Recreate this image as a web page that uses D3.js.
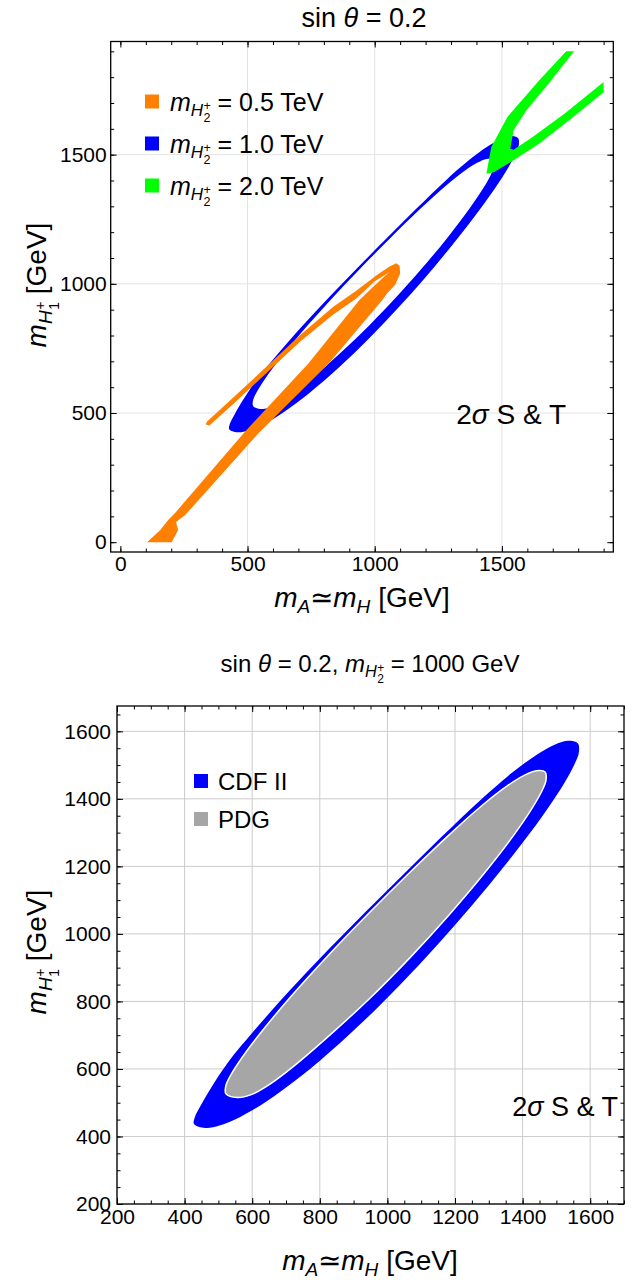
<!DOCTYPE html>
<html><head><meta charset="utf-8">
<script src="https://cdn.jsdelivr.net/npm/d3@7"></script>
<style>body{margin:0;background:#fff} svg{font-family:"Liberation Sans",Arial,Helvetica,sans-serif}</style>
</head><body>
<svg id="c" width="637" height="1280"></svg>
<script>
// ---------- data ----------
const topMajorTicks = [0, 500, 1000, 1500];
const topMinorTicks = d3.range(0, 1901, 100);
const botMajorTicks = [200, 400, 600, 800, 1000, 1200, 1400, 1600];
const botMinorTicksX = d3.range(200, 1701, 50);
const botMinorTicksY = d3.range(200, 1651, 50);

// CDF II allowed band (m_H2+ = 1.0 TeV): outer boundary, [mA, mH1+] in GeV
const cdfOuter = [[427.8,437.3],[430.0,456.4],[446.4,489.5],[477.7,543.2],[528.7,619.5],[605.3,712.8],[711.5,832.8],[821.3,949.5],[933.5,1063.4],[1047.0,1176.1],[1161.1,1288.4],[1277.3,1398.4],[1368.5,1477.0],[1441.8,1530.8],[1496.4,1561.0],[1534.7,1572.1],[1563.2,1564.7],
  [1566.8,1539.7],[1553.9,1503.1],[1524.0,1448.0],[1473.7,1371.0],[1402.1,1272.8],[1302.0,1146.5],[1198.1,1024.0],[1090.6,905.2],[979.4,790.2],[863.3,679.9],[741.1,575.9],[643.1,504.3],[563.3,457.0],[503.4,432.2],[460.8,425.4]];
// inner boundary of the CDF II band (= PDG allowed region)
const cdfInner = [[522.3,526.3],[521.8,549.3],[537.4,583.1],[570.6,634.7],[625.2,707.2],[715.2,815.2],[822.7,933.9],[940.5,1056.5],[1060.8,1176.6],[1176.2,1287.5],[1280.8,1381.0],[1352.3,1436.8],[1404.7,1469.4],[1440.3,1483.4],[1466.7,1479.7],
  [1469.1,1454.8],[1455.1,1419.4],[1424.0,1365.8],[1372.2,1290.4],[1285.9,1178.8],[1182.3,1056.2],[1067.7,930.5],[948.3,809.5],[830.5,701.0],[724.1,609.3],[651.5,554.5],[597.2,523.9],[556.2,515.2]];
// m_H2+ = 0.5 TeV region
const orangeRegion = [[105,0],[157,47],[188,86],[215,113],[488,426],[740,693],[940,937],[990,985],[1040,1030],[1058,1045],
  [1000,1010],[930,945],[836,880],[705,775],[575,655],[444,535],[350,452],[336,456],[340,466],[444,560],[575,680],[705,800],[836,910],[930,975],[1010,1035],[1060,1068],[1085,1080],[1098,1070],[1100,1040],[1080,995],[1050,965],[1030,937],[820,693],[547,426],[255,105],[219,78],[227,47],[202,0]];
// m_H2+ = 2.0 TeV region
const greenRegion = [[1439,1426],[1458,1529],[1521,1645],[1646,1787],[1753,1900],[1784,1900],[1684,1775],[1596,1671],[1546,1594],[1533,1523],[1546,1519],[1621,1568],[1747,1659],[1900,1781],[1900,1742],[1772,1639],[1646,1542],[1546,1478],[1470,1433]];

const topLegend = ["0.5", "1.0", "2.0"];
const topColors = ["#ff8000", "#0000ff", "#00ff00"];
const botLegend = ["CDF II", "PDG"];
const botColors = ["#0000ff", "#a6a6a6"];

// ---------- helpers ----------
const svg = d3.select("#c");
function rich(parent, x, y, fs, segs, anchor) {
  const g = parent.append("g");
  let cx = 0;
  segs.forEach(s => {
    const t = g.append("text")
      .attr("x", cx + (s.dx || 0) * fs)
      .attr("y", (s.dy || 0) * fs)
      .attr("font-size", fs * (s.s || 1))
      .attr("font-style", s.it ? "italic" : "normal")
      .style("white-space", "pre")
      .attr("fill", "#000")
      .text(s.t);
    const w = t.node().getComputedTextLength();
    if (s.adv !== false) cx += w + (s.dx || 0) * fs;
  });
  const off = anchor === "middle" ? -cx / 2 : anchor === "end" ? -cx : 0;
  g.attr("transform", `translate(${x + off},${y})`);
  return g;
}
const mH = n => [
  {t: "m", it: 1},
  {t: "H", it: 1, s: 0.68, dy: 0.22},
  {t: "+", s: 0.5, dy: -0.02, adv: false, dx: 0.02},
  {t: n, s: 0.5, dy: 0.45, dx: 0.02},
];
const xLab = [
  {t: "m", it: 1}, {t: "A", it: 1, s: 0.68, dy: 0.22},
  {t: "\u2243"}, {t: "m", it: 1}, {t: "H", it: 1, s: 0.68, dy: 0.22},
  {t: " [GeV]"}
];

function panel(cfg) {
  const {x, y, gridTicks, gridColor, majorX, majorY, minorX, minorY, fsTick, padX, padY, id} = cfg;
  const [x0, x1] = x.range(), [y1, y0] = y.range();
  const g = svg.append("g");
  g.append("clipPath").attr("id", id).append("rect")
    .attr("x", x0).attr("y", y0).attr("width", x1 - x0).attr("height", y1 - y0);
  const grid = g.append("g").attr("stroke", gridColor).attr("stroke-width", 1);
  gridTicks.forEach(v => {
    grid.append("line").attr("x1", x(v)).attr("x2", x(v)).attr("y1", y0).attr("y2", y1);
    grid.append("line").attr("y1", y(v)).attr("y2", y(v)).attr("x1", x0).attr("x2", x1);
  });
  const plot = g.append("g").attr("clip-path", `url(#${id})`);
  const axes = g.append("g");
  const mk = (ax, sc, vals, size, fmt, pad) => ax(sc).tickValues(vals).tickSizeInner(-size).tickSizeOuter(0).tickPadding(pad).tickFormat(fmt);
  const put = (axis, tr) => {
    const a = axes.append("g").attr("transform", tr).call(axis);
    a.select(".domain").remove();
    a.selectAll("text").attr("font-size", fsTick).attr("fill", "#000").attr("font-family", "Liberation Sans, Arial, sans-serif");
    a.selectAll("line").attr("stroke", "#000").attr("stroke-width", 1);
  };
  put(mk(d3.axisBottom, x, majorX, 6, d3.format("d"), padX), `translate(0,${y1})`);
  put(mk(d3.axisBottom, x, minorX, 3.5, () => "", 0), `translate(0,${y1})`);
  put(mk(d3.axisTop, x, majorX, 6, () => "", 0), `translate(0,${y0})`);
  put(mk(d3.axisTop, x, minorX, 3.5, () => "", 0), `translate(0,${y0})`);
  put(mk(d3.axisLeft, y, majorY, 6, d3.format("d"), padY), `translate(${x0},0)`);
  put(mk(d3.axisLeft, y, minorY, 3.5, () => "", 0), `translate(${x0},0)`);
  put(mk(d3.axisRight, y, majorY, 6, () => "", 0), `translate(${x1},0)`);
  put(mk(d3.axisRight, y, minorY, 3.5, () => "", 0), `translate(${x1},0)`);
  g.append("rect").attr("x", x0).attr("y", y0).attr("width", x1 - x0).attr("height", y1 - y0)
    .attr("fill", "none").attr("stroke", "#000").attr("stroke-width", 1.3);
  return plot;
}

// ---------- top chart ----------
const xT = d3.scaleLinear().domain([-38, 1938]).range([110.7, 613.3]);
const yT = d3.scaleLinear().domain([-38, 1938]).range([552, 41.5]);
const plotT = panel({x: xT, y: yT, gridTicks: [500, 1000, 1500], gridColor: "#e3e3e3",
  majorX: topMajorTicks, majorY: topMajorTicks, minorX: topMinorTicks, minorY: topMinorTicks,
  fsTick: 21, padX: 4, padY: 4, id: "clipT"});
const smoothT = d3.line().x(d => xT(d[0])).y(d => yT(d[1])).curve(d3.curveCatmullRomClosed.alpha(0.5));
const linT = d3.line().x(d => xT(d[0])).y(d => yT(d[1])).curve(d3.curveLinearClosed);
plotT.append("path").attr("d", smoothT(cdfOuter) + smoothT(cdfInner)).attr("fill", topColors[1]).attr("fill-rule", "evenodd");
plotT.append("path").attr("d", linT(orangeRegion)).attr("fill", topColors[0]);
plotT.append("path").attr("d", linT(greenRegion)).attr("fill", topColors[2]);

topLegend.forEach((v, i) => {
  const cy = 101.5 + i * 42;
  svg.append("rect").attr("x", 145).attr("y", cy - 7).attr("width", 14).attr("height", 14).attr("fill", topColors[i]);
  rich(svg, 170, cy + 9, 25, [...mH("2"), {t: " = " + v + " TeV"}], "start");
});
rich(svg, 566, 424, 28, [{t: "2"}, {t: "\u03c3", it: 1}, {t: " S & T"}], "end");
rich(svg, 364, 27, 27, [{t: "sin "}, {t: "\u03b8", it: 1}, {t: " = 0.2"}], "middle");
rich(svg, 362, 607, 28, xLab, "middle");
rich(svg.append("g").attr("transform", "translate(46,285) rotate(-90)"), 0, 0, 28, [...mH("1"), {t: " [GeV]"}], "middle");

// ---------- bottom chart ----------
const xB = d3.scaleLinear().domain([200, 1700]).range([117, 624]);
const yB = d3.scaleLinear().domain([200, 1675]).range([1204, 706]);
const plotB = panel({x: xB, y: yB, gridTicks: botMajorTicks, gridColor: "#cccccc",
  majorX: botMajorTicks, majorY: botMajorTicks, minorX: botMinorTicksX, minorY: botMinorTicksY,
  fsTick: 21, padX: 5, padY: 6, id: "clipB"});
const smoothB = d3.line().x(d => xB(d[0])).y(d => yB(d[1])).curve(d3.curveCatmullRomClosed.alpha(0.5));
plotB.append("path").attr("d", smoothB(cdfOuter) + smoothB(cdfInner)).attr("fill", botColors[0]).attr("fill-rule", "evenodd");
plotB.append("path").attr("d", smoothB(cdfInner)).attr("fill", botColors[1]).attr("stroke", "#fff").attr("stroke-width", 1.5);

botLegend.forEach((v, i) => {
  const cy = 781 + i * 38;
  svg.append("rect").attr("x", 194).attr("y", cy - 7).attr("width", 14).attr("height", 14).attr("fill", botColors[i]);
  rich(svg, 218, cy + 9, 24, [{t: v}], "start");
});
rich(svg, 618, 1116, 27, [{t: "2"}, {t: "\u03c3", it: 1}, {t: " S & T"}], "end");
rich(svg, 370, 672, 24, [{t: "sin "}, {t: "\u03b8", it: 1}, {t: " = 0.2, "}, ...mH("2"), {t: " = 1000 GeV"}], "middle");
rich(svg, 370, 1270, 28, xLab, "middle");
rich(svg.append("g").attr("transform", "translate(46,952) rotate(-90)"), 0, 0, 28, [...mH("1"), {t: " [GeV]"}], "middle");
</script>
</body></html>
